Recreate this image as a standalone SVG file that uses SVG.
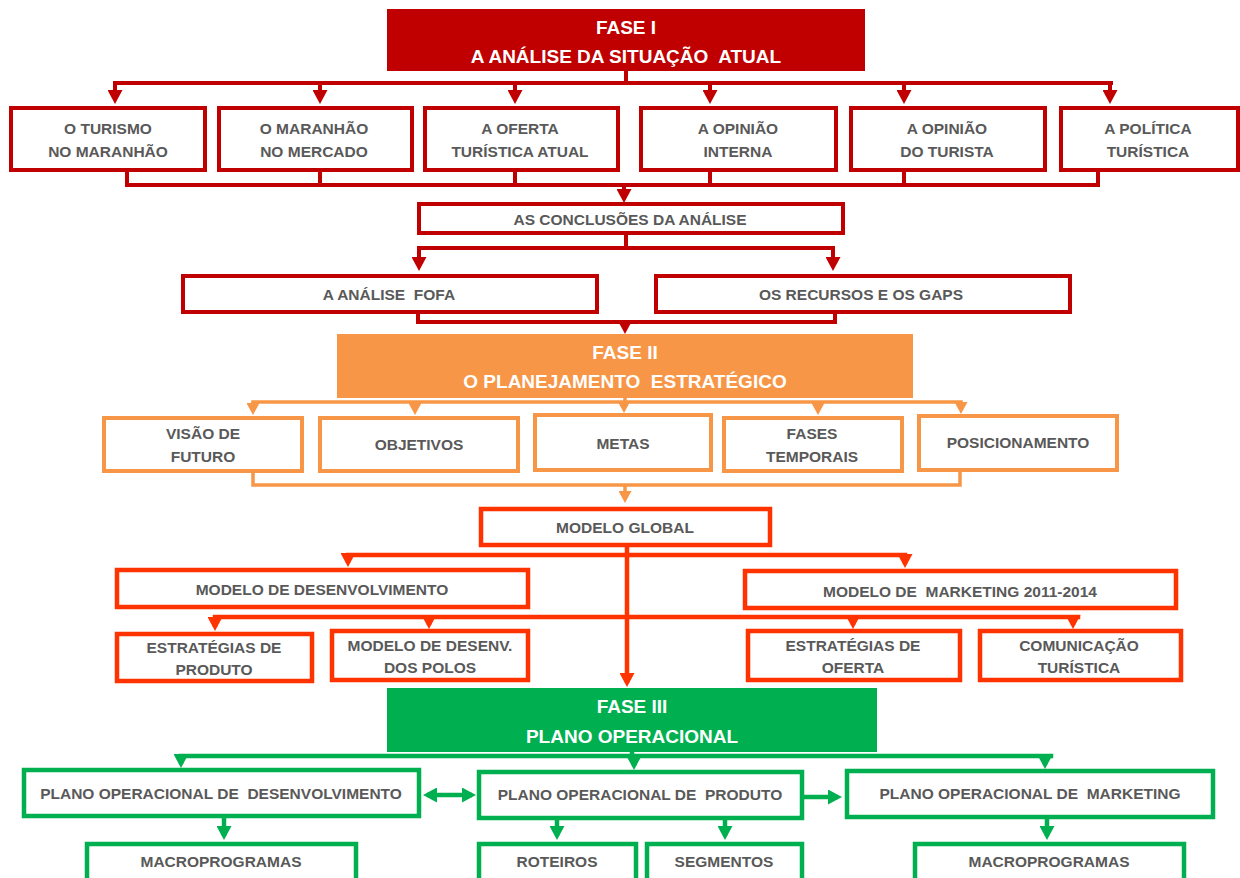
<svg xmlns="http://www.w3.org/2000/svg" width="1240" height="878" viewBox="0 0 1240 878">
<style>
text{font-family:"Liberation Sans",Arial,sans-serif;font-weight:bold;text-anchor:middle}
.t{font-size:15.5px;fill:#595959}
.h{font-size:19px;fill:#ffffff}
.box{fill:#ffffff}
.r{stroke:#C00000;stroke-width:4}
.o{stroke:#F79646;stroke-width:4}
.x{stroke:#FF3300;stroke-width:4.5}
.g{stroke:#00B050;stroke-width:4.5}
.c{fill:none;stroke-linecap:square}
.cr{stroke:#C00000;stroke-width:4}
.co{stroke:#F79646;stroke-width:3.5}
.cx{stroke:#FF3300;stroke-width:4.5}
.cg{stroke:#00B050;stroke-width:4.5}
.ar{marker-end:url(#mr)}
.ao{marker-end:url(#mo)}
.ax{marker-end:url(#mx)}
.ag{marker-end:url(#mg)}
.butt{stroke-linecap:butt}
</style>
<defs>
<marker id="mr" markerUnits="userSpaceOnUse" viewBox="0 0 14 15" markerWidth="14" markerHeight="15" refX="10" refY="7.5" orient="auto"><path d="M0,0 L14,7.5 L0,15 z" fill="#C00000"/></marker>
<marker id="mo" markerUnits="userSpaceOnUse" viewBox="0 0 12 13" markerWidth="12" markerHeight="13" refX="8" refY="6.5" orient="auto"><path d="M0,0 L12,6.5 L0,13 z" fill="#F79646"/></marker>
<marker id="mx" markerUnits="userSpaceOnUse" viewBox="0 0 14 15" markerWidth="14" markerHeight="15" refX="10" refY="7.5" orient="auto"><path d="M0,0 L14,7.5 L0,15 z" fill="#FF3300"/></marker>
<marker id="mg" markerUnits="userSpaceOnUse" viewBox="0 0 14 15" markerWidth="14" markerHeight="15" refX="10" refY="7.5" orient="auto-start-reverse"><path d="M0,0 L14,7.5 L0,15 z" fill="#00B050"/></marker>
</defs>

<g id="connectors" class="c">
  <!-- Fase I -->
  <path class="cr" d="M626,71 V83 M115,83 H1111"/>
  <path class="cr ar butt" d="M115,83 V100"/>
  <path class="cr ar butt" d="M320,83 V100"/>
  <path class="cr ar butt" d="M515,83 V100"/>
  <path class="cr ar butt" d="M710,83 V100"/>
  <path class="cr ar butt" d="M904,83 V100"/>
  <path class="cr ar butt" d="M1110,83 V100"/>
  <path class="cr" d="M127,172 V185 H1098 V172 M320,172 V185 M515,172 V185 M710,172 V185 M904,172 V185"/>
  <path class="cr ar butt" d="M624,185 V199"/>
  <path class="cr" d="M626,235 V248 M419,248 H833"/>
  <path class="cr ar butt" d="M419,248 V267"/>
  <path class="cr ar butt" d="M833,248 V267"/>
  <path class="cr" d="M418,314 V322 H835 V314"/>
  <path class="cr ar butt" d="M625,322 V330"/>
  <!-- Fase II -->
  <path class="co" d="M625,398 V402 M253,402 H961"/>
  <path class="co ao butt" d="M253,402 V411"/>
  <path class="co ao butt" d="M415,402 V411"/>
  <path class="co ao butt" d="M624,402 V409"/>
  <path class="co ao butt" d="M818,402 V411"/>
  <path class="co ao butt" d="M961,402 V410"/>
  <path class="co" d="M253,473 V485 H960 V472"/>
  <path class="co ao butt" d="M625,485 V499"/>
  <path class="cx ax butt" d="M627,547 V683"/>
  <path class="cx" d="M348,555 H905"/>
  <path class="cx ax butt" d="M348,555 V563"/>
  <path class="cx ax butt" d="M905,555 V564"/>
  <path class="cx" d="M215,617 H1078"/>
  <path class="cx ax butt" d="M215,617 V627"/>
  <path class="cx ax butt" d="M429,617 V625"/>
  <path class="cx ax butt" d="M853,617 V625"/>
  <path class="cx ax butt" d="M1073,617 V625"/>
  <!-- Fase III -->
  <path class="cg" d="M632,752 V756 M181,756 H1051"/>
  <path class="cg ag butt" d="M181,756 V764"/>
  <path class="cg ag butt" d="M634,756 V766"/>
  <path class="cg ag butt" d="M1045,756 V765"/>
  <path class="cg butt" d="M427,795 H472" marker-start="url(#mg)" marker-end="url(#mg)"/>
  <path class="cg ag butt" d="M804,797 H838"/>
  <path class="cg ag butt" d="M224,818 V836"/>
  <path class="cg ag butt" d="M557,820 V836"/>
  <path class="cg ag butt" d="M725,820 V836"/>
  <path class="cg ag butt" d="M1047,819 V836"/>
</g>

<g id="fase1">
  <rect x="387" y="9" width="478" height="62" fill="#C00000"/>
  <text class="h" x="626" y="34">FASE I</text>
  <text class="h" x="626" y="63" xml:space="preserve">A ANÁLISE DA SITUAÇÃO  ATUAL</text>
</g>
<g id="turismo"><rect class="box r" x="11" y="108" width="194" height="62"/><text class="t" x="108" y="134">O TURISMO</text><text class="t" x="108" y="157">NO MARANHÃO</text></g>
<g id="maranhao"><rect class="box r" x="219" y="108" width="193" height="62"/><text class="t" x="314" y="134">O MARANHÃO</text><text class="t" x="314" y="157">NO MERCADO</text></g>
<g id="oferta"><rect class="box r" x="425" y="108" width="193" height="62"/><text class="t" x="520" y="134">A OFERTA</text><text class="t" x="520" y="157">TURÍSTICA ATUAL</text></g>
<g id="opiniao-interna"><rect class="box r" x="641" y="108" width="195" height="62"/><text class="t" x="738" y="134">A OPINIÃO</text><text class="t" x="738" y="157">INTERNA</text></g>
<g id="opiniao-turista"><rect class="box r" x="851" y="108" width="194" height="62"/><text class="t" x="947" y="134">A OPINIÃO</text><text class="t" x="947" y="157">DO TURISTA</text></g>
<g id="politica"><rect class="box r" x="1061" y="108" width="177" height="62"/><text class="t" x="1148" y="134">A POLÍTICA</text><text class="t" x="1148" y="157">TURÍSTICA</text></g>
<g id="conclusoes"><rect class="box r" x="419" y="204" width="424" height="29"/><text class="t" x="630" y="225">AS CONCLUSÕES DA ANÁLISE</text></g>
<g id="fofa"><rect class="box r" x="183" y="276" width="414" height="36"/><text class="t" x="389" y="300" xml:space="preserve">A ANÁLISE  FOFA</text></g>
<g id="recursos"><rect class="box r" x="656" y="276" width="414" height="36"/><text class="t" x="861" y="300">OS RECURSOS E OS GAPS</text></g>

<g id="fase2">
  <rect x="337" y="334" width="576" height="64" fill="#F79646"/>
  <text class="h" x="625" y="359">FASE II</text>
  <text class="h" x="625" y="388" xml:space="preserve">O PLANEJAMENTO  ESTRATÉGICO</text>
</g>
<g id="visao"><rect class="box o" x="104" y="418" width="198" height="53"/><text class="t" x="203" y="439">VISÃO DE</text><text class="t" x="203" y="462">FUTURO</text></g>
<g id="objetivos"><rect class="box o" x="320" y="418" width="198" height="53"/><text class="t" x="419" y="450">OBJETIVOS</text></g>
<g id="metas"><rect class="box o" x="535" y="415" width="176" height="55"/><text class="t" x="623" y="449">METAS</text></g>
<g id="fases"><rect class="box o" x="724" y="418" width="178" height="53"/><text class="t" x="812" y="439">FASES</text><text class="t" x="812" y="462">TEMPORAIS</text></g>
<g id="posicionamento"><rect class="box o" x="919" y="416" width="198" height="54"/><text class="t" x="1018" y="448">POSICIONAMENTO</text></g>

<g id="modelo-global"><rect class="box x" x="481" y="509" width="289" height="36"/><text class="t" x="625" y="533">MODELO GLOBAL</text></g>
<g id="modelo-desenv"><rect class="box x" x="117" y="570" width="411" height="37"/><text class="t" x="322" y="595">MODELO DE DESENVOLVIMENTO</text></g>
<g id="modelo-marketing"><rect class="box x" x="745" y="571" width="431" height="37"/><text class="t" x="960" y="597" xml:space="preserve">MODELO DE  MARKETING 2011-2014</text></g>
<g id="estr-produto"><rect class="box x" x="117" y="634" width="195" height="47"/><text class="t" x="214" y="653">ESTRATÉGIAS DE</text><text class="t" x="214" y="675">PRODUTO</text></g>
<g id="polos"><rect class="box x" x="332" y="631" width="196" height="49"/><text class="t" x="430" y="651">MODELO DE DESENV.</text><text class="t" x="430" y="673">DOS POLOS</text></g>
<g id="estr-oferta"><rect class="box x" x="748" y="631" width="212" height="49"/><text class="t" x="853" y="651">ESTRATÉGIAS DE</text><text class="t" x="853" y="673">OFERTA</text></g>
<g id="comunicacao"><rect class="box x" x="980" y="631" width="201" height="49"/><text class="t" x="1079" y="651">COMUNICAÇÃO</text><text class="t" x="1079" y="673">TURÍSTICA</text></g>

<g id="fase3">
  <rect x="387" y="688" width="490" height="64" fill="#00B050"/>
  <text class="h" x="632" y="713">FASE III</text>
  <text class="h" x="632" y="743">PLANO OPERACIONAL</text>
</g>
<g id="po-desenv"><rect class="box g" x="24" y="770" width="395" height="46"/><text class="t" x="221" y="799" xml:space="preserve">PLANO OPERACIONAL DE  DESENVOLVIMENTO</text></g>
<g id="po-produto"><rect class="box g" x="479" y="772" width="323" height="46"/><text class="t" x="640" y="800" xml:space="preserve">PLANO OPERACIONAL DE  PRODUTO</text></g>
<g id="po-marketing"><rect class="box g" x="847" y="771" width="366" height="46"/><text class="t" x="1030" y="799" xml:space="preserve">PLANO OPERACIONAL DE  MARKETING</text></g>
<g id="macro1"><rect class="box g" x="87" y="844" width="269" height="60"/><text class="t" x="221" y="867">MACROPROGRAMAS</text></g>
<g id="roteiros"><rect class="box g" x="479" y="844" width="157" height="60"/><text class="t" x="557" y="867">ROTEIROS</text></g>
<g id="segmentos"><rect class="box g" x="647" y="844" width="155" height="60"/><text class="t" x="724" y="867">SEGMENTOS</text></g>
<g id="macro2"><rect class="box g" x="915" y="844" width="269" height="60"/><text class="t" x="1049" y="867">MACROPROGRAMAS</text></g>
</svg>
